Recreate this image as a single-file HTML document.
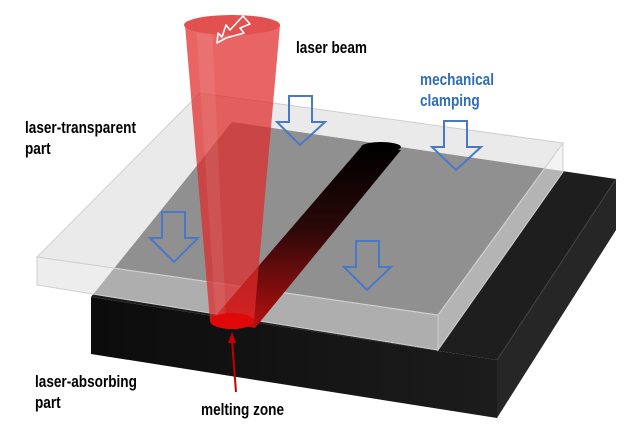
<!DOCTYPE html>
<html><head><meta charset="utf-8"><style>
html,body{margin:0;padding:0;background:#fff;width:640px;height:443px;overflow:hidden}
svg{display:block}
text{font-family:"Liberation Sans",sans-serif;font-weight:bold;font-size:17px}
</style></head><body>
<svg width="640" height="443" viewBox="0 0 640 443" xmlns="http://www.w3.org/2000/svg">
<defs>
<linearGradient id="gr" x1="0" y1="0" x2="0" y2="1">
<stop offset="0" stop-color="#000"/><stop offset="0.45" stop-color="#2a0808"/><stop offset="1" stop-color="#b81010"/>
</linearGradient>
<linearGradient id="bf" x1="0" y1="0" x2="1" y2="0">
<stop offset="0" stop-color="#0c0c0c"/><stop offset="1" stop-color="#1c1c1c"/>
</linearGradient>
</defs>
<!-- black block -->
<polygon points="91,297 497,360 616,179 232,122" fill="#1e1e1e"/>
<polygon points="91,297 497,360 497,418 91,354" fill="url(#bf)"/>
<polygon points="497,360 616,179 616,230 497,418" fill="#262626"/>
<line x1="497" y1="360" x2="616" y2="179" stroke="#444" stroke-width="1"/>
<!-- glass -->
<g stroke="#cfcfcf" stroke-width="1">
<polygon points="37,257 438,315 563,143 200,93" fill="#dcdcdc" fill-opacity="0.6"/>
<polygon points="37,257 438,315 438,350 37,285" fill="#e6e6e6" fill-opacity="0.72"/>
<polygon points="438,315 563,143 563,172 438,350" fill="#eeeeee" fill-opacity="0.72"/>
</g>
<!-- groove -->
<polygon points="362,146 401,150 255,328 212,320" fill="url(#gr)"/>
<ellipse cx="381" cy="147" rx="20" ry="5" fill="#000"/>
<!-- laser -->
<path d="M185,25 L210,321 A22,8 0 0 0 254,321 L280,25 Z" fill="#e02a2a" fill-opacity="0.72"/>
<path d="M196,25 L216,321 L226,321 L212,25 Z" fill="#fff" fill-opacity="0.08"/>
<ellipse cx="232" cy="25" rx="48" ry="10" fill="#e35050"/>
<ellipse cx="232" cy="321" rx="22" ry="8" fill="#e00808"/>
<polygon points="243,16 250,24 240,28 244,33 226,38 217,43 218,33 222,37 226,25 230,30 243,16" fill="none" stroke="#fff" stroke-width="1.6" stroke-linejoin="round"/>
<!-- red arrow -->
<line x1="236" y1="392" x2="232" y2="340" stroke="#c40000" stroke-width="2"/>
<polygon points="232,332 228,343 236,343" fill="#c40000"/>
<!-- blue arrows -->
<g fill="none" stroke="#4a78c8" stroke-width="2" stroke-linejoin="miter">
<polygon points="289,96 312,96 312,122 325,122 300,145 277,122 289,122"/>
<polygon points="444,121 467,121 467,147 481,147 456,170 432,147 444,147"/>
<polygon points="162,212 185,212 185,238 198,238 174,262 150,238 162,238"/>
<polygon points="356,241 379,241 379,267 391,267 367,290 344,267 356,267"/>
</g>
<!-- labels -->
<g transform="translate(296,53) scale(0.8,1)"><text>laser beam</text></g>
<g transform="translate(420,85) scale(0.8,1)"><text fill="#2f6db5">mechanical</text></g>
<g transform="translate(420,106) scale(0.8,1)"><text fill="#2f6db5">clamping</text></g>
<g transform="translate(25,133) scale(0.8,1)"><text>laser-transparent</text></g>
<g transform="translate(25,154) scale(0.8,1)"><text>part</text></g>
<g transform="translate(35,387) scale(0.8,1)"><text>laser-absorbing</text></g>
<g transform="translate(35,408) scale(0.8,1)"><text>part</text></g>
<g transform="translate(201,415) scale(0.8,1)"><text>melting zone</text></g>
</svg>
</body></html>
